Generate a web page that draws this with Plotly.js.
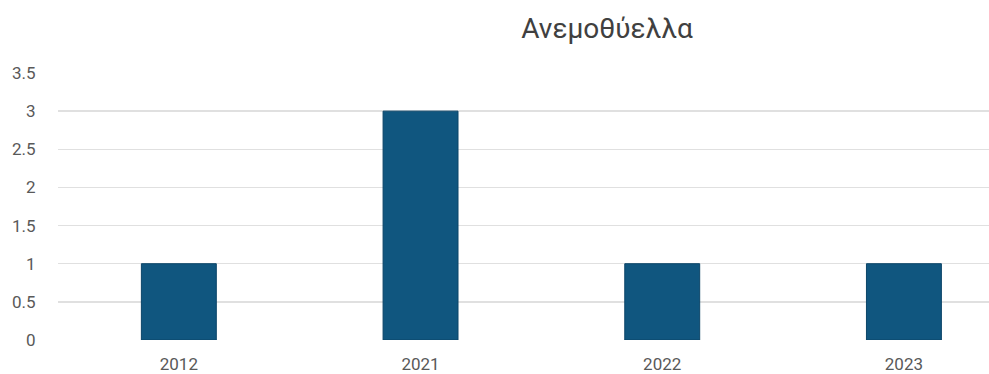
<!DOCTYPE html>
<html>
<head>
<meta charset="utf-8">
<script src="https://cdn.plot.ly/plotly-3.0.1.min.js"></script>
<style>html,body{margin:0;padding:0;background:#fff;}#chart{width:989px;height:374px;}</style>
</head>
<body>
<div id="chart"></div>
<script>
const chartTitle = 'Ανεμοθύελλα';
const years = ['2012', '2021', '2022', '2023'];
const counts = [1, 3, 1, 1];
const yTicks = [0, 0.5, 1, 1.5, 2, 2.5, 3, 3.5];

const trace = {
  type: 'bar',
  x: years,
  y: counts,
  width: 0.31,
  marker: {color: '#10567f', line: {color: '#0b4468', width: 1}},
  hoverinfo: 'x+y'
};

const layout = {
  width: 989, height: 374,
  margin: {l: 58, r: 0, t: 73, b: 34},
  paper_bgcolor: '#ffffff', plot_bgcolor: '#ffffff',
  showlegend: false,
  font: {family: 'Roboto, "Open Sans", sans-serif', color: '#595959', size: 16},
  title: {
    text: chartTitle,
    font: {family: 'Roboto, "Open Sans", sans-serif', size: 28, color: '#404040'},
    xref: 'paper', x: 0.5897, xanchor: 'center',
    yref: 'container', y: 0.925, yanchor: 'middle'
  },
  xaxis: {
    type: 'category',
    range: [-0.5, 3.352],
    showgrid: false, zeroline: false, showline: false,
    ticks: 'outside', ticklen: 9, tickcolor: 'rgba(0,0,0,0)',
    tickfont: {size: 17, color: '#595959'},
    fixedrange: true
  },
  yaxis: {
    range: [0, 3.5],
    tickvals: yTicks,
    ticktext: yTicks.map(String),
    showgrid: true, gridcolor: '#e0e0e0', gridwidth: 1.3,
    zeroline: false, showline: false,
    ticks: 'outside', ticklen: 18, tickcolor: 'rgba(0,0,0,0)',
    tickfont: {size: 17, color: '#595959'},
    fixedrange: true
  }
};

Plotly.newPlot('chart', [trace], layout, {displayModeBar: false, staticPlot: true});
</script>
</body>
</html>
